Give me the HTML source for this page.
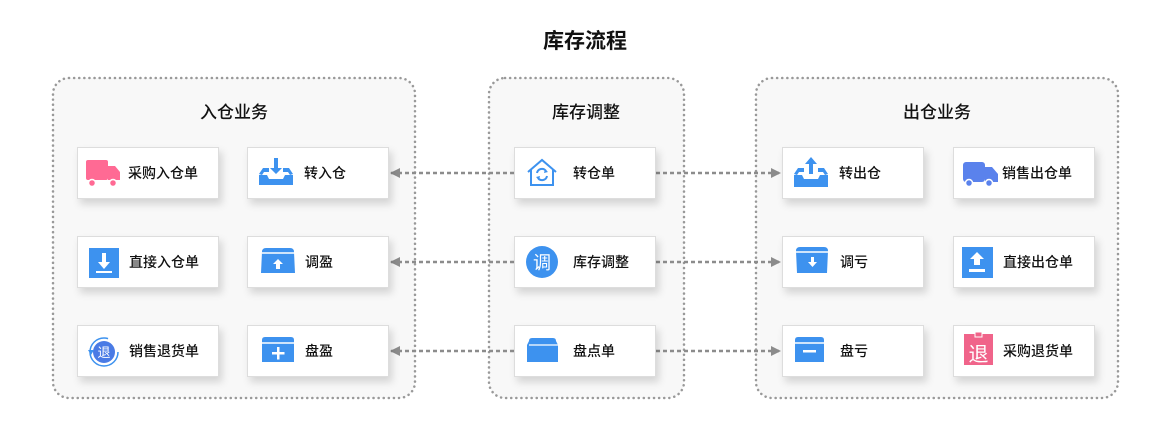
<!DOCTYPE html>
<html><head><meta charset="utf-8"><style>
body{margin:0;width:1170px;height:430px;background:#fff;overflow:hidden;font-family:"Liberation Sans","Noto Sans CJK SC",sans-serif;}
</style></head><body>
<svg width="1170" height="430" xmlns="http://www.w3.org/2000/svg" style="font-family:'Liberation Sans','Noto Sans CJK SC',sans-serif">
<defs>
<filter id="sh" x="-20%" y="-30%" width="150%" height="180%"><feDropShadow dx="3" dy="5" stdDeviation="4" flood-color="#000" flood-opacity="0.15"/></filter>
<marker id="ah" markerWidth="10" markerHeight="10" refX="9" refY="5" orient="auto" markerUnits="userSpaceOnUse"><path d="M0,0 L10,5 L0,10 z" fill="#8c8c8c"/></marker>
</defs>
<text x="585" y="48" text-anchor="middle" font-size="21" font-weight="bold" fill="#111">库存流程</text>
<g fill="#f8f8f8" stroke="#999" stroke-width="2.5" stroke-dasharray="0.1 5" stroke-linecap="round">
<rect x="53" y="78" width="362" height="320" rx="16"/>
<rect x="489" y="78" width="195" height="320" rx="16"/>
<rect x="756" y="78" width="362" height="320" rx="16"/>
</g>
<g font-size="17" fill="#111" text-anchor="middle" font-weight="500">
<text x="234" y="118">入仓业务</text><text x="586" y="118">库存调整</text><text x="937" y="118">出仓业务</text>
</g>
<g stroke="#8c8c8c" stroke-width="2.5" stroke-dasharray="4 3" fill="none">
<line x1="514" y1="173" x2="391" y2="173" marker-end="url(#ah)"/>
<line x1="514" y1="262" x2="391" y2="262" marker-end="url(#ah)"/>
<line x1="514" y1="351" x2="391" y2="351" marker-end="url(#ah)"/>
<line x1="656" y1="173" x2="780" y2="173" marker-end="url(#ah)"/>
<line x1="656" y1="262" x2="780" y2="262" marker-end="url(#ah)"/>
<line x1="656" y1="351" x2="780" y2="351" marker-end="url(#ah)"/>
</g>
<g fill="#fff" stroke="#ddd" stroke-width="1" filter="url(#sh)">
<rect x="77.5" y="147.5" width="141" height="51"/><rect x="247.5" y="147.5" width="141" height="51"/>
<rect x="77.5" y="236.5" width="141" height="51"/><rect x="247.5" y="236.5" width="141" height="51"/>
<rect x="77.5" y="325.5" width="141" height="51"/><rect x="247.5" y="325.5" width="141" height="51"/>
<rect x="514.5" y="147.5" width="141" height="51"/><rect x="514.5" y="236.5" width="141" height="51"/><rect x="514.5" y="325.5" width="141" height="51"/>
<rect x="782.5" y="147.5" width="141" height="51"/><rect x="953.5" y="147.5" width="141" height="51"/>
<rect x="782.5" y="236.5" width="141" height="51"/><rect x="953.5" y="236.5" width="141" height="51"/>
<rect x="782.5" y="325.5" width="141" height="51"/><rect x="953.5" y="325.5" width="141" height="51"/>
</g>
<g font-size="14" fill="#111" font-weight="500">
<text x="128" y="178">采购入仓单</text><text x="304" y="178">转入仓</text>
<text x="129" y="267">直接入仓单</text><text x="305" y="267">调盈</text>
<text x="129" y="356">销售退货单</text><text x="305" y="356">盘盈</text>
<text x="573" y="178">转仓单</text><text x="573" y="267">库存调整</text><text x="573" y="356">盘点单</text>
<text x="839" y="178">转出仓</text><text x="1002" y="178">销售出仓单</text>
<text x="840" y="267">调亏</text><text x="1003" y="267">直接出仓单</text>
<text x="840" y="356">盘亏</text><text x="1003" y="356">采购退货单</text>
</g>
<!-- icons -->
<g fill="#ff6a94"><rect x="86" y="160" width="22" height="20" rx="2"/><path d="M108 166 h7 l5 6 v8 h-12z"/><circle cx="92" cy="183" r="3.5" fill="#ff6a94" stroke="#fff" stroke-width="1.5"/><circle cx="113" cy="183" r="3.5" stroke="#fff" stroke-width="1.5"/></g>
<g fill="#3d92ef"><path d="M259 174 l4-6 h6 v4 h-5 l-2 3 z M293 174 l-4-6 h-6 v4 h5 l2 3 z"/><path d="M259 175 h8 l2 4 h14 l2-4 h8 v10 h-34z"/><path d="M274 158 h4 v10 h4 l-6 6 l-6-6 h4z"/></g>
<g><rect x="89" y="248" width="30" height="30" fill="#3d92ef"/><path d="M102 253 h4 v9 h4 l-6 7 l-6-7 h4z M96 271 h16 v2 h-16z" fill="#fff"/></g>
<g><path d="M262 252 q0-4 4-4 h24 q4 0 4 4 l1 21 h-34z" fill="#3d92ef"/><path d="M262 253 h33" stroke="#fff" stroke-width="1.5"/><path d="M278 259 l-5 5 h3 v5 h4 v-5 h3z" fill="#fff"/></g>
<g><circle cx="104" cy="352" r="14" fill="none" stroke="#3d92ef" stroke-width="1.5" stroke-dasharray="70 18"/><circle cx="104" cy="352" r="11" fill="#4a7be5"/><text x="104" y="357" font-size="13" fill="#fff" text-anchor="middle">退</text><path d="M88 350 l3 5 l3-5z" fill="#3d92ef"/></g>
<g><path d="M262 340 q0-3 3-3 h26 q3 0 3 3 v22 h-32z" fill="#3d92ef"/><path d="M262 343 h32" stroke="#fff" stroke-width="1.5"/><path d="M277 347 h2.5 v5 h5 v2.5 h-5 v5 h-2.5 v-5 h-5 v-2.5 h5z" fill="#fff"/></g>
<g fill="none" stroke="#3d92ef" stroke-width="2"><path d="M528 172 l14-12 l14 12 M531 170 v15 h22 v-15"/><path d="M537 173 a5 5 0 0 1 9-2 M547 176 a5 5 0 0 1 -9 2"/></g>
<path d="M545 169 l3 3 l-4 1z M539 180 l-3-3 l4-1z" fill="#3d92ef"/>
<g><circle cx="542" cy="262" r="16" fill="#3d92ef"/><text x="542" y="269" font-size="18" fill="#fff" text-anchor="middle">调</text></g>
<g><path d="M529 341 q0-3 3-3 h21 q3 0 3 3 l2 4 v17 h-31 v-17z" fill="#3d92ef"/><path d="M529 345 h29" stroke="#fff" stroke-width="1.2"/></g>
<g fill="#3d92ef"><path d="M794 174 l4-6 h6 v4 h-5 l-2 3z M828 174 l-4-6 h-6 v4 h5 l2 3z"/><path d="M794 175 h8 l2 4 h14 l2-4 h8 v12 h-34z"/><path d="M809 174 h4 v-10 h4 l-6-7 l-6 7 h4z"/></g>
<g fill="#5a82ec"><rect x="963" y="162" width="22" height="20" rx="3"/><path d="M985 167 h7 l6 7 v8 h-13z"/><circle cx="969" cy="183" r="3.5" stroke="#fff" stroke-width="1.5"/><circle cx="989" cy="183" r="3.5" stroke="#fff" stroke-width="1.5"/></g>
<g><path d="M796 251 q0-4 4-4 h24 q4 0 4 4 l-1 22 h-30z" fill="#3d92ef"/><path d="M796 252 h32" stroke="#fff" stroke-width="1.5"/><path d="M811 257 h3 v5 h3 l-4.5 5 l-4.5-5 h3z" fill="#fff"/></g>
<g><rect x="962" y="247" width="31" height="31" fill="#3d92ef"/><path d="M977 252 l-7 7 h4 v6 h6 v-6 h4z M969 269 h16 v3 h-16z" fill="#fff"/></g>
<g><path d="M795 340 q0-3 3-3 h23 q3 0 3 3 v22 h-29z" fill="#3d92ef"/><path d="M795 343 h29" stroke="#fff" stroke-width="1.5"/><rect x="803" y="350" width="13" height="2.5" fill="#fff"/></g>
<g><rect x="964" y="334" width="29" height="31" fill="#f0648a"/><rect x="975" y="332" width="7" height="5" fill="#f0648a" stroke="#fff" stroke-width="1"/><text x="978.5" y="361" font-size="20" fill="#fff" text-anchor="middle">退</text></g>
</svg>
</body></html>
